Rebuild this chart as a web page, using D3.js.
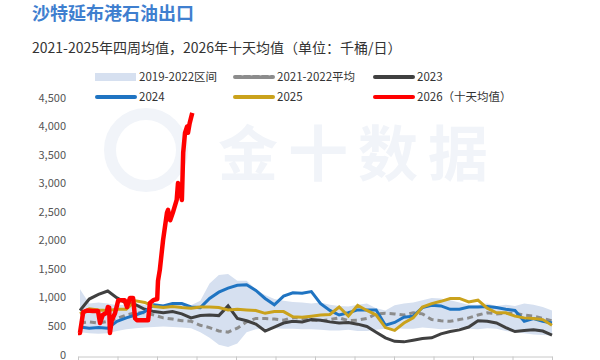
<!DOCTYPE html>
<html><head><meta charset="utf-8">
<script src="https://cdn.jsdelivr.net/npm/d3@7"></script>
<style>body{margin:0;background:#fff}svg{display:block}text{font-family:"Noto Sans CJK SC","Noto Sans",sans-serif}</style>
</head><body><svg id="c" width="600" height="360"></svg>
<script>
const title = "沙特延布港石油出口";
const subtitle = "2021-2025年四周均值，2026年十天均值（单位：千桶/日）";
const yTicks = [0,500,1000,1500,2000,2500,3000,3500,4000,4500];
const months = [0,1,2,3,4,5,6,7,8,9,10,11,12];
// weekly series (52 weeks)
const bandLow = [400,380,370,380,420,450,470,480,490,500,490,480,470,400,300,180,140,200,400,450,460,470,460,460,450,450,440,430,430,440,420,420,440,460,470,460,460,480,470,450,460,470,460,450,470,460,420,400,380,360,350,340];
const bandHigh = [1150,900,920,900,870,880,900,880,900,880,900,870,870,950,1250,1400,1420,1300,1300,1150,1050,980,950,930,920,900,920,880,860,850,880,900,820,780,870,900,920,960,1000,990,960,920,880,880,900,860,880,860,900,880,840,780];
const avg2122 = [560,580,560,590,640,700,740,740,700,650,630,600,590,520,480,420,400,470,580,640,640,630,610,660,640,610,600,620,650,600,610,640,720,730,720,700,740,720,620,600,590,620,650,700,740,720,730,730,700,680,640,600];
const s2023 = [780,980,1060,1120,1000,910,880,800,760,740,760,720,650,690,700,690,860,640,600,540,420,490,560,590,580,620,610,580,560,570,540,500,400,300,240,230,260,290,300,370,410,440,490,600,590,560,480,410,430,440,420,350];
const s2024 = [490,470,480,470,590,650,700,760,880,860,900,900,840,830,990,1100,1170,1220,1230,1130,990,880,1030,1090,1080,1110,900,780,700,740,790,790,790,520,570,660,680,830,870,860,800,800,840,840,850,830,800,780,590,640,590,560];
const s2025 = [720,810,790,780,800,800,950,920,850,830,850,830,820,840,840,830,790,800,790,780,730,760,760,670,660,680,700,710,840,680,870,780,700,480,430,560,650,840,900,940,990,990,930,960,820,740,740,680,650,640,620,520];
// 2026 ten-day average, by day of year
const days2026 = [0,1.5,4,7,11.5,15.4,17,19,22,23,24,24.6,26,28.5,31,36,37.7,40,42.4,44,45.4,54,55.4,58,61,61.6,63,65.5,68.5,69.3,71,73,76,77,78.5,80,81,82.4,84,84.7,86,88];
const vals2026 = [385,385,750,780,770,770,560,700,740,840,830,385,610,730,960,960,840,1000,1000,640,610,610,910,960,980,1300,1490,2010,2490,2540,2360,2490,2715,3010,2890,2715,3540,3890,4000,3890,4060,4240];

const svg = d3.select("#c");
const y = d3.scaleLinear().domain([0,4500]).range([355,98]);
const xm = d3.scaleLinear().domain([0,12]).range([78,552]);
const xd = d3.scaleLinear().domain([0,365]).range([78,552]);
const xw = d3.scaleLinear().domain([0,51]).range([80,552]);

// watermark
const wm = svg.append("g").attr("fill","none");
wm.append("circle").attr("cx",146).attr("cy",150).attr("r",36).attr("stroke","#f1f4f9").attr("stroke-width",12);
svg.append("text").attr("x",218).attr("y",176).attr("font-size",60).attr("font-weight",700)
  .attr("fill","#f1f4f9").attr("letter-spacing",10).text("金十数据");

svg.append("text").attr("x",32).attr("y",20).attr("font-size",18).attr("font-weight",700)
  .attr("fill","#3f7fcf").text(title);
svg.append("text").attr("x",32).attr("y",53).attr("font-size",14).attr("fill","#333").text(subtitle);

// y axis labels
svg.append("g").selectAll("text").data(yTicks).join("text")
  .attr("x",66).attr("y",d=>y(d)+3.5).attr("text-anchor","end").attr("font-size",11)
  .attr("fill","#555").text(d=>d3.format(",")(d));

// x axis
const xa = svg.append("g").attr("transform",`translate(0,${y(0)+1.5})`)
  .call(d3.axisBottom(xm).tickValues(months).tickSize(4).tickFormat(""));
xa.select(".domain").attr("stroke","#c8c8c8");
xa.selectAll(".tick line").attr("stroke","#c8c8c8");

// band
const area = d3.area().x((d,i)=>xw(i)).y0((d,i)=>y(bandLow[i])).y1(d=>y(d));
svg.append("path").datum(bandHigh).attr("d",area).attr("fill","#d6e0f0");

const line = d3.line().x((d,i)=>xw(i)).y(d=>y(d));
svg.append("path").datum(avg2122).attr("d",line).attr("fill","none").attr("stroke","#8c8c8c")
  .attr("stroke-width",3).attr("stroke-dasharray","6,4");
svg.append("path").datum(s2023).attr("d",line).attr("fill","none").attr("stroke","#404040").attr("stroke-width",3);
svg.append("path").datum(s2024).attr("d",line).attr("fill","none").attr("stroke","#1f74c2").attr("stroke-width",3);
svg.append("path").datum(s2025).attr("d",line).attr("fill","none").attr("stroke","#caa21c").attr("stroke-width",3);
const line26 = d3.line().x((d,i)=>xd(days2026[i])).y(d=>y(d));
svg.append("path").datum(vals2026).attr("d",line26).attr("fill","none").attr("stroke","#ff0000")
  .attr("stroke-width",4.5).attr("stroke-linejoin","round");

// legend
const legend = [
  {name:"2019-2022区间",type:"band",color:"#d6e0f0",x:95,y:77},
  {name:"2021-2022平均",type:"dash",color:"#8c8c8c",x:233,y:77},
  {name:"2023",type:"line",color:"#404040",x:373,y:77},
  {name:"2024",type:"line",color:"#1f74c2",x:95,y:97},
  {name:"2025",type:"line",color:"#caa21c",x:233,y:97},
  {name:"2026（十天均值）",type:"line",color:"#ff0000",x:373,y:97}
];
const lg = svg.append("g").selectAll("g").data(legend).join("g");
lg.each(function(d){
  const g = d3.select(this);
  if(d.type==="band") g.append("rect").attr("x",d.x).attr("y",d.y-4).attr("width",41).attr("height",8).attr("fill",d.color);
  else g.append("line").attr("x1",d.x+2).attr("x2",d.x+40).attr("y1",d.y).attr("y2",d.y)
    .attr("stroke",d.color).attr("stroke-width",4).attr("stroke-linecap","round")
    .attr("stroke-dasharray",d.type==="dash"?"6,3":null);
  g.append("text").attr("x",d.x+44).attr("y",d.y+4).attr("font-size",11.5).attr("fill","#333").text(d.name);
});
</script></body></html>
